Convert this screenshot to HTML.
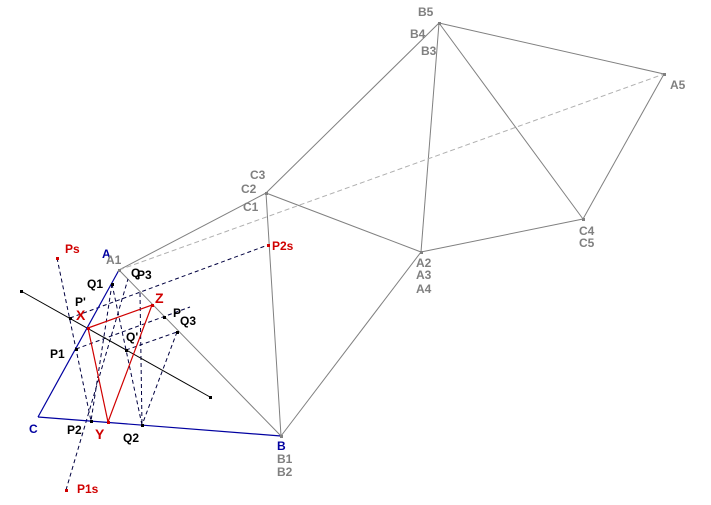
<!DOCTYPE html>
<html><head><style>
html,body{margin:0;padding:0;background:#fff;}
svg{display:block;}
text{font-family:"Liberation Sans",sans-serif;font-size:12px;font-weight:bold;}
.g{fill:#808080;} .b{fill:#0000a0;} .r{fill:#d00000;} .k{fill:#000;}
</style></head><body>
<svg width="711" height="505" viewBox="0 0 711 505" xmlns="http://www.w3.org/2000/svg">
<g stroke="#808080" stroke-width="1" fill="none">
<line x1="119" y1="270" x2="266" y2="193"/>
<line x1="266" y1="193" x2="439" y2="23"/>
<line x1="439" y1="23" x2="421" y2="252"/>
<line x1="266" y1="193" x2="421" y2="252"/>
<line x1="266" y1="193" x2="281" y2="436"/>
<line x1="421" y1="252" x2="281" y2="436"/>
<line x1="439" y1="23" x2="664" y2="74"/>
<line x1="439" y1="23" x2="583" y2="219"/>
<line x1="583" y1="219" x2="664" y2="74"/>
<line x1="421" y1="252" x2="583" y2="219"/>
<line x1="119" y1="270" x2="281" y2="436"/>
</g>
<line x1="119" y1="270" x2="664" y2="74" stroke="#b0b0b0" stroke-dasharray="5,3"/>
<g stroke="#000040" stroke-width="1" stroke-dasharray="4,3" fill="none">
<line x1="57" y1="258" x2="91" y2="421"/>
<line x1="70" y1="318" x2="268" y2="245"/>
<line x1="112" y1="284" x2="142" y2="425"/>
<line x1="177" y1="332" x2="142" y2="425"/>
<line x1="76" y1="349" x2="190" y2="307"/>
<line x1="126" y1="350" x2="177" y2="332"/>
<line x1="66" y1="490" x2="128" y2="279"/>
<line x1="140" y1="293" x2="142" y2="425"/>
<line x1="112" y1="284" x2="91" y2="421"/>
</g>
<line x1="21" y1="291" x2="210" y2="397" stroke="#000" stroke-width="1"/>
<g stroke="#0000a0" stroke-width="1.2" fill="none">
<line x1="119" y1="270" x2="38" y2="417"/>
<line x1="38" y1="417" x2="281" y2="436"/>
</g>
<g stroke="#d00000" stroke-width="1.2" fill="none">
<polygon points="88,328 152,305 108,422"/>
</g>
<g fill="#000">
<rect x="20" y="290" width="3" height="3"/><rect x="209" y="396" width="3" height="3"/>
<rect x="111" y="283" width="3" height="3"/><rect x="69" y="317" width="3" height="3"/>
<rect x="75" y="348" width="3" height="3"/><rect x="90" y="420" width="3" height="3"/>
<rect x="141" y="424" width="3" height="3"/><rect x="163" y="316" width="3" height="3"/>
<rect x="176" y="331" width="3" height="3"/><rect x="125" y="349" width="3" height="3"/>
</g>
<g fill="#d00000">
<rect x="87" y="327" width="3" height="3"/><rect x="151" y="304" width="3" height="3"/>
<rect x="107" y="421" width="3" height="3"/><rect x="56" y="257" width="3" height="3"/>
<rect x="65" y="489" width="3" height="3"/><rect x="267" y="244" width="3" height="3"/>
</g>
<g fill="#808080">
<rect x="118" y="269" width="3" height="3"/><rect x="265" y="192" width="3" height="3"/>
<rect x="438" y="22" width="3" height="3"/><rect x="420" y="251" width="3" height="3"/>
<rect x="663" y="73" width="3" height="3"/><rect x="582" y="218" width="3" height="3"/>
<rect x="280" y="435" width="3" height="3"/>
</g>
<text x="418" y="16" class="g">B5</text>
<text x="410" y="38" class="g">B4</text>
<text x="421" y="55" class="g">B3</text>
<text x="670" y="89" class="g">A5</text>
<text x="250" y="179" class="g">C3</text>
<text x="241" y="193" class="g">C2</text>
<text x="243" y="211" class="g">C1</text>
<text x="579" y="235" class="g">C4</text>
<text x="579" y="247" class="g">C5</text>
<text x="416" y="267" class="g">A2</text>
<text x="416" y="279" class="g">A3</text>
<text x="416" y="293" class="g">A4</text>
<text x="102" y="258" class="b">A</text>
<text x="106" y="264" class="g">A1</text>
<text x="65" y="253" class="r">Ps</text>
<text x="272" y="250" class="r">P2s</text>
<text x="131" y="277" class="k">Q</text>
<text x="137" y="279" class="k">P3</text>
<text x="87" y="288" class="k">Q1</text>
<text x="75" y="306" class="k">P'</text>
<text x="76" y="320" class="r" style="font-size:14px">X</text>
<text x="155" y="303" class="r" style="font-size:14px">Z</text>
<text x="173" y="317" class="k">P</text>
<text x="180" y="325" class="k">Q3</text>
<text x="126" y="341" class="k">Q'</text>
<text x="50" y="358" class="k">P1</text>
<text x="29" y="433" class="b">C</text>
<text x="67" y="434" class="k">P2</text>
<text x="95" y="439" class="r" style="font-size:14px">Y</text>
<text x="123" y="442" class="k">Q2</text>
<text x="277" y="450" class="b">B</text>
<text x="277" y="463" class="g">B1</text>
<text x="277" y="476" class="g">B2</text>
<text x="77" y="493" class="r">P1s</text>
</svg>
</body></html>
